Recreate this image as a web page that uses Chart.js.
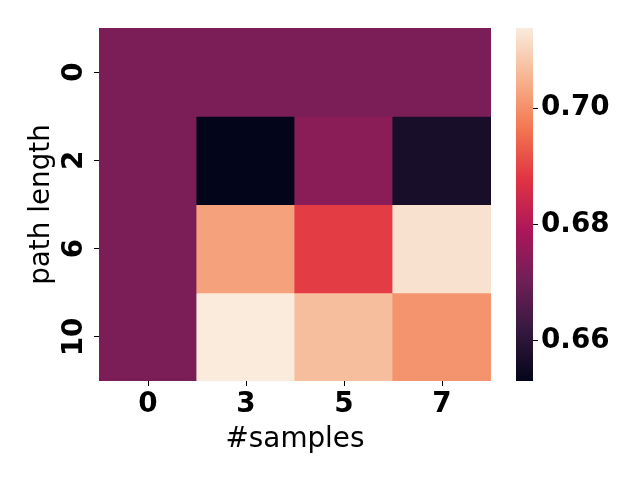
<!DOCTYPE html>
<html>
<head>
<meta charset="utf-8">
<script src="https://cdn.jsdelivr.net/npm/chart.js@4.4.0/dist/chart.umd.min.js"></script>
<style>
    body { margin: 0; background: #fff; }
    #wrap { position: relative; width: 640px; height: 480px; }
    #heat { position: absolute; left: 0; top: 0; }
    #cbar { position: absolute; left: 500px; top: 0; }
</style>
</head>
<body>
<div id="wrap">
    <canvas id="heat" width="640" height="480"></canvas>
    <canvas id="cbar" width="140" height="480"></canvas>
</div>
<script>
// heatmap data, rows listed top to bottom
const samples = ['0', '3', '5', '7'];
const pathLengths = ['0', '2', '6', '10'];
const row0 = [0.672, 0.672, 0.672, 0.672];
const row2 = [0.672, 0.6531, 0.6742, 0.657];
const row6 = [0.672, 0.7025, 0.689, 0.7122];
const row10 = [0.672, 0.7138, 0.7067, 0.7006];
const colorbarTicks = [0.66, 0.68, 0.70];
const vmin = 0.6531;
const vmax = 0.7138;

const rows = [row0, row2, row6, row10];

// seaborn "rocket" colormap stops
const rocket = ['#03051A', '#35193E', '#701F57', '#AD1759', '#E13342', '#F37651', '#F6B48F', '#FAEBDD'];

function hexToRgb(h) {
    return [parseInt(h.slice(1, 3), 16), parseInt(h.slice(3, 5), 16), parseInt(h.slice(5, 7), 16)];
}

function rocketColor(v) {
    let t = (v - vmin) / (vmax - vmin);
    t = Math.max(0, Math.min(1, t));
    const pos = t * (rocket.length - 1);
    const i = Math.min(Math.floor(pos), rocket.length - 2);
    const f = pos - i;
    const a = hexToRgb(rocket[i]);
    const b = hexToRgb(rocket[i + 1]);
    const c = a.map((x, k) => Math.round(x + (b[k] - x) * f));
    return `rgb(${c[0]}, ${c[1]}, ${c[2]})`;
}

const font = { family: 'DejaVu Sans', size: 27.8 };
const boldFont = { family: 'DejaVu Sans', size: 27.8, weight: 'bold' };

// one floating-bar dataset per row, bottom row sits at 0..1
const datasets = rows.map((vals, r) => {
    const level = rows.length - 1 - r;
    return {
        label: pathLengths[r],
        data: vals.map(() => [level, level + 1]),
        backgroundColor: vals.map(v => rocketColor(v)),
        borderWidth: 0,
        inflateAmount: 0.6,
        barPercentage: 1,
        categoryPercentage: 1,
        grouped: false
    };
});

new Chart(document.getElementById('heat'), {
    type: 'bar',
    data: { labels: samples, datasets: datasets },
    options: {
        responsive: false,
        animation: false,
        layout: { padding: { left: 0, right: 149, top: 28, bottom: 0 } },
        plugins: { legend: { display: false }, tooltip: { enabled: false } },
        scales: {
            x: {
                offset: true,
                border: { display: false },
                grid: { offset: false, drawOnChartArea: false, drawTicks: true, tickLength: 5, color: '#000' },
                ticks: { color: '#000', font: boldFont, padding: 2, maxRotation: 0 },
                title: { display: true, text: '#samples', color: '#000', font: font, padding: { top: 0, bottom: 24 } },
                afterFit: s => { s.height = 99; }
            },
            y: {
                min: 0,
                max: rows.length,
                border: { display: false },
                grid: { drawOnChartArea: false, drawTicks: true, tickLength: 5, color: '#000' },
                afterBuildTicks: s => { s.ticks = rows.map((_, i) => ({ value: i + 0.5 })); },
                ticks: {
                    color: '#000',
                    font: boldFont,
                    minRotation: 90,
                    maxRotation: 90,
                    crossAlign: 'center',
                    padding: 0,
                    callback: v => pathLengths[rows.length - 1 - Math.floor(v)]
                },
                title: { display: true, text: 'path length', color: '#000', font: font, padding: { top: 25, bottom: 0 } },
                afterFit: s => { s.width = 99; }
            }
        }
    }
});

// colorbar: one floating bar spanning vmin..vmax, filled with the colormap
new Chart(document.getElementById('cbar'), {
    type: 'bar',
    data: {
        labels: [''],
        datasets: [{
            data: [[vmin, vmax]],
            borderWidth: 0,
            barPercentage: 1,
            categoryPercentage: 1,
            backgroundColor: ctx => {
                const area = ctx.chart.chartArea;
                if (!area) return rocket[0];
                const g = ctx.chart.ctx.createLinearGradient(0, area.bottom, 0, area.top);
                rocket.forEach((c, i) => g.addColorStop(i / (rocket.length - 1), c));
                return g;
            }
        }]
    },
    options: {
        responsive: false,
        animation: false,
        layout: { padding: { left: 16, right: 0, top: 28, bottom: 99 } },
        plugins: { legend: { display: false }, tooltip: { enabled: false } },
        scales: {
            x: { display: false },
            y: {
                position: 'right',
                min: vmin,
                max: vmax,
                border: { display: false },
                grid: { drawOnChartArea: false, drawTicks: true, tickLength: 5, color: '#000' },
                afterBuildTicks: s => { s.ticks = colorbarTicks.map(v => ({ value: v })); },
                ticks: { color: '#000', font: boldFont, padding: 3, callback: v => v.toFixed(2) },
                afterFit: s => { s.width = 107; }
            }
        }
    }
});
</script>
</body>
</html>
